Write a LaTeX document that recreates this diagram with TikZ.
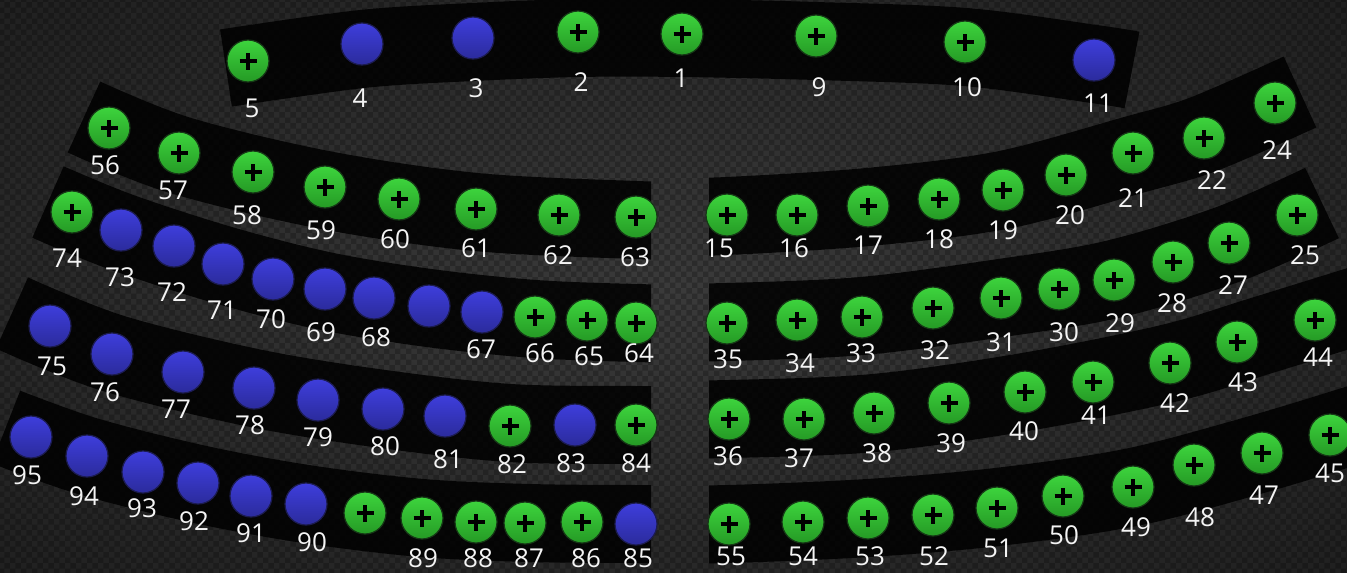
\documentclass[tikz,border=0pt]{standalone}
\usepackage{fontspec}
\setmainfont{Open Sans}
\usetikzlibrary{patterns}
\definecolor{bgin}{HTML}{3A3A3A}
\definecolor{bgmid}{HTML}{2A2A2A}
\definecolor{bgout}{HTML}{141414}
\definecolor{gtop}{HTML}{3DD43D}
\definecolor{gbot}{HTML}{259A25}
\definecolor{gline}{HTML}{163816}
\definecolor{btop}{HTML}{3E3EDC}
\definecolor{bbot}{HTML}{2B2B9C}
\definecolor{bline}{HTML}{1C1C50}
\definecolor{lblcol}{HTML}{F4F4F4}
\pgfdeclareradialshading{glow}{\pgfpoint{0bp}{0bp}}{color(0bp)=(bgin); color(22bp)=(bgmid); color(50bp)=(bgout)}
\tikzset{
  seatbase/.style={circle, minimum size=42pt, inner sep=0pt, line width=1.2pt},
  gseat/.style={seatbase, draw=gline, top color=gtop, bottom color=gbot,
    path picture={
      \draw[line width=4pt, black] ([xshift=-8.5pt]path picture bounding box.center) -- ([xshift=8.5pt]path picture bounding box.center);
      \draw[line width=4pt, black] ([yshift=-8.5pt]path picture bounding box.center) -- ([yshift=8.5pt]path picture bounding box.center);
    }},
  bseat/.style={seatbase, draw=bline, top color=btop, bottom color=bbot},
  lbl/.style={text=lblcol, font=\fontsize{26}{26}\selectfont, inner sep=0pt},
  band/.style={draw=black, draw opacity=0.85, line width=78pt, line cap=butt, line join=round},
}
\newcommand\Gs[5]{\node[gseat] (s#1) at (#2,#3) {}; \node[lbl] (l#1) at (#4,#5) {#1};}
\newcommand\Bs[5]{\node[bseat] (s#1) at (#2,#3) {}; \node[lbl] (l#1) at (#4,#5) {#1};}
\begin{document}
\begin{tikzpicture}[x=1pt, y=-1pt]
\useasboundingbox (0,0) rectangle (1347,573);
% background
\path[shading=glow] (0,0) rectangle (1347,573);
\fill[pattern=checkerboard, pattern color=black, opacity=0.22] (0,0) rectangle (1347,573);
% bands
\draw[band] plot[smooth, tension=0.55] coordinates {(226,68) (362,49) (473,42) (578,38) (682,38) (816,41) (965,47) (1094,64) (1132,70)};
\begin{scope}
\clip (0,0) rectangle (651,573);
\draw[band] plot[smooth, tension=0.55] coordinates {(84,117) (179,155) (325,190) (476,212) (636,220) (700,221)};
\draw[band] plot[smooth, tension=0.55] coordinates {(48,202) (121,232) (223,265) (325,291) (429,308) (535,319) (636,323) (700,324)};
\draw[band] plot[smooth, tension=0.55] coordinates {(12,313) (112,353) (254,388) (383,409) (510,423) (636,425) (700,425)};
\draw[band] plot[smooth, tension=0.55] coordinates {(6,427) (87,456) (198,484) (306,504) (422,518) (530,523) (636,524) (700,524)};
\end{scope}
\begin{scope}
\clip (709,0) rectangle (1347,573);
\draw[band] plot[smooth, tension=0.55] coordinates {(660,217) (727,216) (868,207) (1003,190) (1133,155) (1204,134) (1300,92)};
\draw[band] plot[smooth, tension=0.55] coordinates {(660,322) (727,322) (862,316) (1001,298) (1114,279) (1229,244) (1322,203)};
\draw[band] plot[smooth, tension=0.55] coordinates {(660,419) (729,419) (874,413) (1025,392) (1170,363) (1260,336) (1360,305)};
\draw[band] plot[smooth, tension=0.55] coordinates {(660,524) (729,524) (868,518) (997,507) (1133,487) (1262,453) (1370,420)};
\end{scope}
% top row
\Gs{5}{248}{61}{252}{108}
\Bs{4}{362}{44}{360}{98}
\Bs{3}{473}{38}{476}{88}
\Gs{2}{578}{32}{581}{82}
\Gs{1}{682}{34}{681}{78}
\Gs{9}{816}{36}{819}{87}
\Gs{10}{965}{42}{967}{87}
\Bs{11}{1094}{60}{1098}{103}
% row 2 left
\Gs{56}{109}{128}{105}{165}
\Gs{57}{179}{153}{173}{190}
\Gs{58}{253}{172}{247}{215}
\Gs{59}{325}{187}{321}{230}
\Gs{60}{399}{199}{395}{239}
\Gs{61}{476}{209}{476}{248}
\Gs{62}{559}{215}{558}{255}
\Gs{63}{636}{217}{635}{257}
% row 3 left
\Gs{74}{72}{212}{67}{258}
\Bs{73}{121}{230}{120}{277}
\Bs{72}{174}{246}{172}{292}
\Bs{71}{223}{264}{222}{310}
\Bs{70}{273}{279}{271}{319}
\Bs{69}{325}{289}{321}{332}
\Bs{68}{374}{298}{376}{337}
\node[bseat] (sx1) at (429,306) {};
\Bs{67}{482}{312}{481}{349}
\Gs{66}{535}{317}{540}{353}
\Gs{65}{587}{320}{589}{356}
\Gs{64}{636}{323}{639}{353}
% row 4 left
\Bs{75}{50}{326}{52}{366}
\Bs{76}{112}{354}{105}{392}
\Bs{77}{183}{372}{176}{409}
\Bs{78}{254}{388}{250}{425}
\Bs{79}{318}{400}{318}{437}
\Bs{80}{383}{409}{385}{446}
\Bs{81}{445}{416}{448}{459}
\Gs{82}{510}{426}{512}{464}
\Bs{83}{575}{425}{571}{463}
\Gs{84}{636}{425}{636}{463}
% row 5 left
\Bs{95}{31}{437}{27}{475}
\Bs{94}{87}{456}{84}{496}
\Bs{93}{143}{472}{142}{508}
\Bs{92}{198}{483}{194}{521}
\Bs{91}{251}{496}{251}{533}
\Bs{90}{306}{504}{312}{542}
\node[gseat] (sx2) at (365,513) {};
\Gs{89}{422}{518}{423}{558}
\Gs{88}{476}{522}{478}{558}
\Gs{87}{525}{523}{529}{558}
\Gs{86}{582}{522}{586}{558}
\Bs{85}{636}{524}{638}{558}
% row 2 right
\Gs{15}{727}{215}{719}{248}
\Gs{16}{797}{215}{794}{248}
\Gs{17}{868}{206}{868}{245}
\Gs{18}{939}{199}{939}{239}
\Gs{19}{1003}{190}{1003}{230}
\Gs{20}{1066}{175}{1070}{215}
\Gs{21}{1133}{153}{1133}{198}
\Gs{22}{1204}{138}{1212}{180}
\Gs{24}{1275}{103}{1277}{150}
% row 3 right
\Gs{35}{727}{323}{728}{359}
\Gs{34}{797}{320}{800}{363}
\Gs{33}{862}{317}{861}{353}
\Gs{32}{933}{308}{935}{350}
\Gs{31}{1001}{298}{1001}{342}
\Gs{30}{1059}{289}{1064}{332}
\Gs{29}{1114}{280}{1120}{323}
\Gs{28}{1173}{262}{1172}{303}
\Gs{27}{1229}{243}{1233}{285}
\Gs{25}{1297}{215}{1305}{255}
% row 4 right
\Gs{36}{729}{419}{728}{456}
\Gs{37}{804}{419}{799}{458}
\Gs{38}{874}{413}{877}{453}
\Gs{39}{949}{403}{951}{443}
\Gs{40}{1025}{392}{1024}{431}
\Gs{41}{1093}{382}{1096}{415}
\Gs{42}{1170}{363}{1175}{403}
\Gs{43}{1237}{342}{1243}{382}
\Gs{44}{1315}{320}{1318}{357}
% row 5 right
\Gs{55}{729}{524}{731}{556}
\Gs{54}{803}{522}{803}{556}
\Gs{53}{868}{518}{870}{556}
\Gs{52}{933}{515}{934}{556}
\Gs{51}{997}{508}{998}{548}
\Gs{50}{1063}{496}{1064}{535}
\Gs{49}{1133}{487}{1136}{527}
\Gs{48}{1194}{465}{1200}{517}
\Gs{47}{1262}{453}{1264}{495}
\Gs{45}{1330}{435}{1330}{473}
\end{tikzpicture}
\end{document}
